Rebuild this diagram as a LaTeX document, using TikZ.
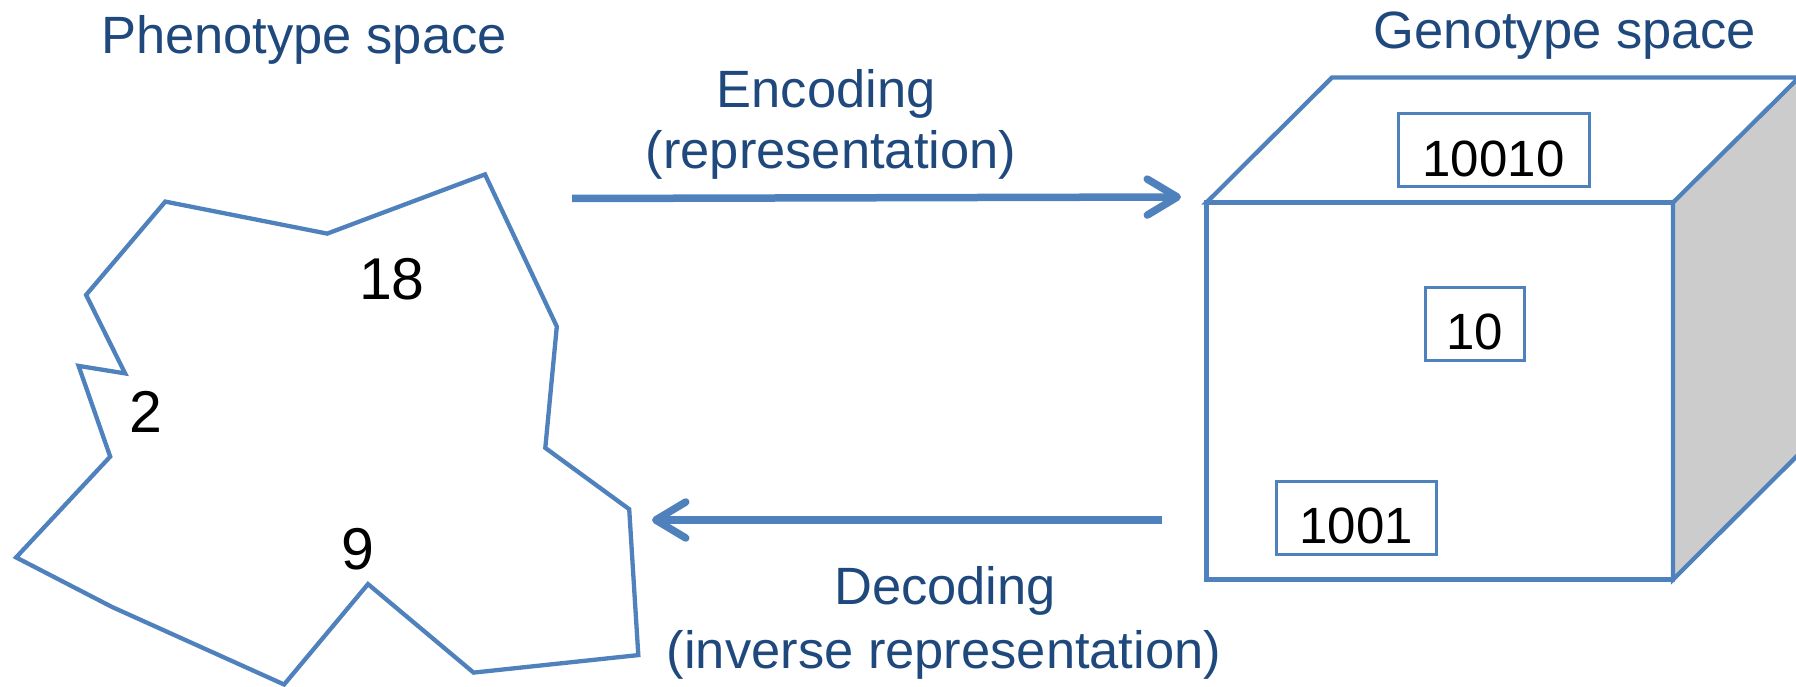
\documentclass[tikz,border=0pt]{standalone}
\usepackage{fontspec}
\setmainfont{Liberation Sans}
\usetikzlibrary{arrows.meta}
\definecolor{edgeblue}{RGB}{79,129,189}
\definecolor{labelblue}{RGB}{31,73,125}
\definecolor{sidegray}{RGB}{204,204,204}

\begin{document}
\begin{tikzpicture}[x=1pt,y=-1pt,
  spacelabel/.style={text=labelblue,font=\fontsize{52.5}{62}\selectfont,anchor=base,inner sep=0pt},
  val/.style={font=\fontsize{59}{70}\selectfont,anchor=base,inner sep=0pt},
  genebox/.style={draw=edgeblue,line width=3pt,inner sep=0pt,minimum height=73pt,
    text height=52pt,text depth=0pt,font=\fontsize{51}{60}\selectfont},
  flow/.style={draw=edgeblue,line width=7.5pt,-{Straight Barb[length=30pt,width=36pt,round]}},
  outline/.style={draw=edgeblue,line width=4.3pt,line join=miter}]

\clip (0,0) rectangle (1796,687);

% phenotype region
\draw[outline] (485,174.4) -- (327.2,233.6) -- (165.3,201.6) -- (86.1,294.9)
  -- (125.1,373.4) -- (78.6,365.9) -- (110.2,456.6) -- (16.1,557.4)
  -- (111.9,606.9) -- (284.1,684.5) -- (368,584.1) -- (473.6,672.6)
  -- (638.3,655.1) -- (629.2,509.2) -- (545.3,447.9) -- (556.8,326.5) -- cycle;

\node[spacelabel] (pheno) at (304,54) {Phenotype space};
\node[val] (v18) at (392,299.5) {18};
\node[val] (v2) at (145.5,432) {2};
\node[val] (v9) at (358,569) {9};

% genotype cube
\coordinate (fa) at (1206.5,202.5);
\coordinate (fb) at (1673,202.5);
\coordinate (fc) at (1673,579.5);
\coordinate (fd) at (1206.5,579.5);
\coordinate (ba) at (1332,77.5);
\coordinate (bb) at (1799,77.5);
\coordinate (bc) at (1799,454);
\fill[sidegray] (fb) -- (bb) -- (bc) -- (fc) -- cycle;
\draw[outline] (fa) -- (ba) -- (bb) -- (fb) -- cycle;
\draw[outline] (fb) -- (fc) -- (bc);
\draw[outline] (fa) rectangle (fc);

\node[spacelabel] (geno) at (1565,49) {Genotype space};
\node[genebox,minimum width=191pt] (g10010) at (1493.5,150.5) {10010};
\node[genebox,minimum width=99pt] (g10) at (1474.5,323.5) {10};
\node[genebox,minimum width=160pt] (g1001) at (1356,517.5) {1001};

% mappings between the spaces
\coordinate (encS) at (572,198.5);
\coordinate (encE) at (1181,197);
\draw[flow] (encS) -- (encE);
\node[spacelabel] (enc1) at (826,107.4) {Encoding};
\node[spacelabel] (enc2) at (831,168.7) {(representation)};

\coordinate (decS) at (1162,520);
\coordinate (decE) at (652,520);
\draw[flow] (decS) -- (decE);
\node[spacelabel] (dec1) at (945,604.7) {Decoding};
\node[spacelabel] (dec2) at (944,668) {(inverse representation)};
\end{tikzpicture}
\end{document}
